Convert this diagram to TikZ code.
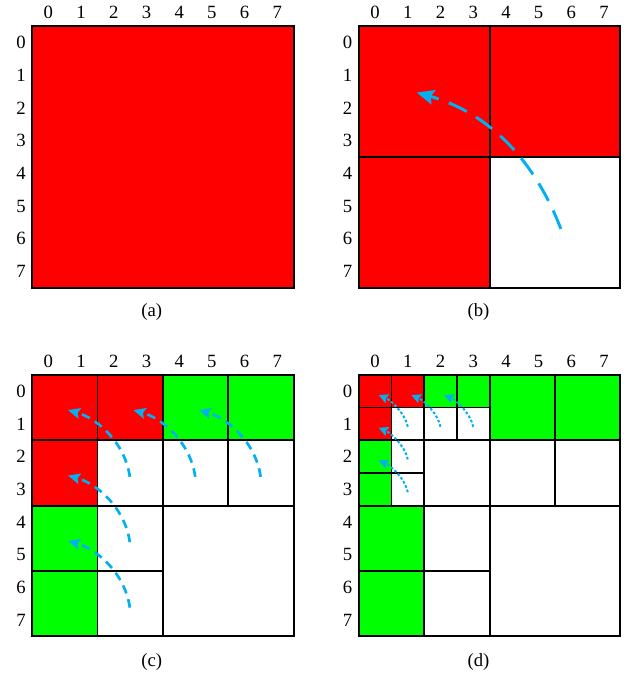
\documentclass[tikz,border=0pt]{standalone}
\usepackage{fontspec}
\setmainfont{Liberation Serif}
\usetikzlibrary{arrows.meta}

\definecolor{blkred}{RGB}{255,0,0}
\definecolor{blkgreen}{RGB}{0,255,0}
\definecolor{arrblue}{RGB}{0,176,240}

\tikzset{
  edge/.style={draw=black, line width=1.4pt},
  lbl/.style={font=\fontsize{14}{16}\selectfont, inner sep=0pt},
  moveb/.style={arrblue, line width=2.2pt, dash pattern=on 15pt off 8pt,
    -{Stealth[length=13pt,width=11pt,inset=2pt]}},
  movec/.style={arrblue, line width=2pt, dash pattern=on 6.5pt off 4.5pt,
    -{Stealth[length=9pt,width=8pt,inset=1.5pt]}},
  moved/.style={arrblue, line width=1.5pt, dash pattern=on 2pt off 1.5pt,
    -{Stealth[length=7pt,width=7pt,inset=1pt]}},
}

% row and column numbers round one panel
\newcommand{\axislabels}[1]{%
  \foreach \i in {0,...,7} {
    \node[lbl] (#1-col\i) at (\i+0.5,-0.41) {\i};
    \node[lbl] (#1-row\i) at (-0.34,\i+0.5) {\i};
  }
}

\begin{document}
\begin{tikzpicture}[x=24.5pt, y=-24.5pt]
    \useasboundingbox (0,0) rectangle (19.45,20.64);

    % (a) the whole matrix
    \begin{scope}[shift={(0.98,0.8)}]
        \fill[blkred] (0,0) rectangle (8,8);
        \draw[edge] (0,0) rectangle (8,8);
        \axislabels{a}
        \node[lbl] (cap-a) at (3.66,8.73) {(a)};
    \end{scope}

    % (b) split into four blocks
    \begin{scope}[shift={(10.97,0.8)}]
        \fill[blkred] (0,0) rectangle (8,4) (0,4) rectangle (4,8);
        \foreach \x/\y in {0/0,4/0,0/4,4/4}
            \draw[edge] (\x,\y) rectangle ++(4,4);
        \axislabels{b}
        \coordinate (b-from) at (6.18,6.2);
        \coordinate (b-to) at (1.77,2.03);
        \draw[moveb] (b-from) .. controls +(-0.92,-2.39) and +(1.96,0.55) .. (b-to);
        \node[lbl] (cap-b) at (3.66,8.73) {(b)};
    \end{scope}

    % (c) blocks of 2x2
    \begin{scope}[shift={(0.98,11.46)}]
        \foreach \x/\y in {0/0,2/0,0/2}
            \fill[blkred] (\x,\y) rectangle ++(2,2);
        \foreach \x/\y in {4/0,6/0,0/4,0/6}
            \fill[blkgreen] (\x,\y) rectangle ++(2,2);
        \foreach \x/\y/\s in {0/0/2,2/0/2,4/0/2,6/0/2,0/2/2,2/2/2,4/2/2,6/2/2,
                              0/4/2,2/4/2,0/6/2,2/6/2,4/4/4}
            \draw[edge] (\x,\y) rectangle ++(\s,\s);
        \axislabels{c}
        \foreach \x/\y [count=\k] in {0/0,2/0,4/0,0/2,0/4} {
            \coordinate (c-from\k) at (\x+2.99,\y+3.12);
            \coordinate (c-to\k) at (\x+1.1,\y+1.08);
            \draw[movec] (c-from\k) .. controls +(-0.15,-1.07) and +(0.86,0.24) .. (c-to\k);
        }
        \node[lbl] (cap-c) at (3.66,8.78) {(c)};
    \end{scope}

    % (d) single cells in the corner
    \begin{scope}[shift={(10.97,11.46)}]
        \foreach \x/\y in {0/0,1/0,0/1}
            \fill[blkred] (\x,\y) rectangle ++(1,1);
        \foreach \x/\y in {2/0,3/0,0/2,0/3}
            \fill[blkgreen] (\x,\y) rectangle ++(1,1);
        \foreach \x/\y in {4/0,6/0,0/4,0/6}
            \fill[blkgreen] (\x,\y) rectangle ++(2,2);
        \foreach \x/\y/\s in {0/0/1,1/0/1,2/0/1,3/0/1,0/1/1,1/1/1,2/1/1,3/1/1,
                              0/2/1,1/2/1,0/3/1,1/3/1,
                              4/0/2,6/0/2,2/2/2,4/2/2,6/2/2,
                              0/4/2,2/4/2,0/6/2,2/6/2,4/4/4}
            \draw[edge] (\x,\y) rectangle ++(\s,\s);
        \axislabels{d}
        \foreach \x/\y [count=\k] in {0/0,1/0,2/0,0/1,0/2} {
            \coordinate (d-from\k) at (\x+1.5,\y+1.59);
            \coordinate (d-to\k) at (\x+0.61,\y+0.62);
            \draw[moved] (d-from\k) .. controls +(-0.1,-0.45) and +(0.35,0.15) .. (d-to\k);
        }
        \node[lbl] (cap-d) at (3.66,8.78) {(d)};
    \end{scope}
\end{tikzpicture}
\end{document}
